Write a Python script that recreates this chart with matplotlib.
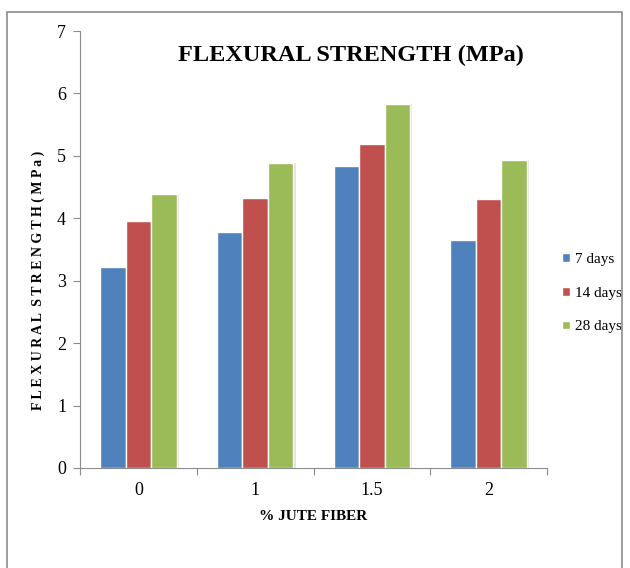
import matplotlib.pyplot as plt
import matplotlib.patches as patches
import numpy as np

fibre = ['0', '1', '1.5', '2']
days_7 = [3.22, 3.78, 4.84, 3.66]
days_14 = [3.96, 4.33, 5.19, 4.31]
days_28 = [4.39, 4.89, 5.83, 4.94]
series_names = ['7 days', '14 days', '28 days']
colors = ['#4F81BD', '#C0504D', '#9BBB59']

plt.rcParams['font.family'] = ['Liberation Serif', 'DejaVu Serif']

fig = plt.figure(figsize=(6.3, 5.68), dpi=100)
ax = fig.add_axes([80/630, 1-468/568, 467/630, 437/568])

# outer frame of the chart area
fig.patches.append(patches.Rectangle((7/630, -0.02), 615/630, 1-12/568+0.02,
                                     transform=fig.transFigure, fill=False,
                                     edgecolor='#8c8c8c', linewidth=1.2))

x = np.arange(len(fibre))
w = 0.218
for i, (vals, name) in enumerate(zip([days_7, days_14, days_28], series_names)):
    pos = x + (i - 1) * w
    # light shadow on the right of each bar
    ax.bar(pos + 0.02, vals, w, color='#e3e3e3', zorder=1)
    ax.bar(pos, vals, w, color=colors[i], edgecolor='white', linewidth=1,
           label=name, zorder=2)

ax.set_xlim(-0.5, 3.5)
ax.set_ylim(0, 7)
ax.set_yticks(range(8))
ax.set_xticks(np.arange(-0.5, 4, 1))
ax.set_xticklabels([])
ax.set_xticks(x, minor=True)
ax.set_xticklabels(fibre, minor=True)
ax.tick_params(axis='x', which='minor', length=0, pad=10, labelsize=13)
ax.tick_params(axis='x', which='major', length=5, color='#8c8c8c')
ax.tick_params(axis='y', length=5, color='#8c8c8c', labelsize=13, pad=5)

for s in ['top', 'right']:
    ax.spines[s].set_visible(False)
for s in ['left', 'bottom']:
    ax.spines[s].set_color('#8c8c8c')

ax.set_xlabel('% JUTE FIBER', fontsize=11, fontweight='bold', labelpad=8)
ax.set_ylabel('F L E X U R A L  S T R E N G T H ( M P a )', fontsize=10,
              fontweight='bold')
ax.yaxis.set_label_coords(-0.075, 0.43)
fig.text(351/630, 1-55/568, 'FLEXURAL STRENGTH (MPa)', fontsize=17.5,
         fontweight='bold', ha='center', va='center')

ax.legend(loc='center left', bbox_to_anchor=(1.02, 0.40), frameon=False,
          fontsize=11, handlelength=0.5, handleheight=0.5, handletextpad=0.3,
          labelspacing=1.35, borderaxespad=0)

plt.savefig('out.png')
